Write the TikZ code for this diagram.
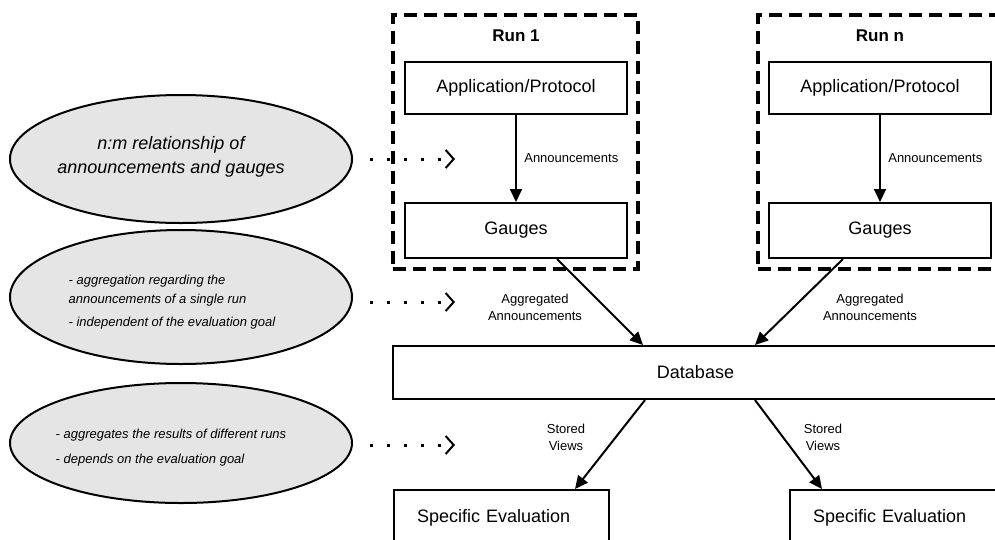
\documentclass[tikz,border=0pt]{standalone}
\usepackage{fontspec}
\setmainfont{Liberation Sans}
\usetikzlibrary{arrows.meta,shapes.geometric,calc}
\definecolor{NoteClr}{rgb}{0.9,0.9,0.9}

\begin{document}
\begin{tikzpicture}[x=1pt,y=-1pt,
  block/.style={draw,line width=2pt,minimum width=222pt,minimum height=52pt,font=\fontsize{18}{21}\selectfont},
  evalblock/.style={block,minimum width=215pt,minimum height=56pt,text width=169pt,inner xsep=23pt,align=left},
  runbox/.style={draw,line width=3.5pt,dash pattern=on 13pt off 7pt,minimum width=245pt,minimum height=254pt},
  runlbl/.style={font=\fontsize{17}{20}\selectfont\bfseries},
  remark/.style={ellipse,draw,fill=NoteClr,line width=2pt,minimum width=342pt},
  notetext/.style={font=\fontsize{13}{19}\selectfont\itshape,align=left},
  lbl/.style={font=\fontsize{13}{17}\selectfont,align=center},
  flow/.style={line width=2pt,-{Triangle[length=13pt,width=12pt]}},
  dotarrow/.style={line width=3pt,dash pattern=on 3pt off 14pt,-{Straight Barb[length=8pt,width=18pt,line width=2pt]}}]
\clip (0,0) rectangle (995,539);

\node[runbox] (run1) at (515.5,142) {};
\node[runbox] (runn) at (880.5,142) {};
\node[runlbl] (run1lbl) at (516,36) {Run 1};
\node[runlbl] (runnlbl) at (880,36) {Run n};

\node[block] (app1) at (516,88) {Application/Protocol};
\node[block,minimum height=55pt] (gauges1) at (516,230.5) {Gauges};
\node[block] (appn) at (880,88) {Application/Protocol};
\node[block,minimum height=55pt] (gaugesn) at (880,230.5) {Gauges};
\node[block,minimum width=605pt,minimum height=53pt] (db) at (695.5,372.5) {Database};
\node[evalblock] (eval1) at (501.5,518) {Specific Evaluation};
\node[evalblock] (evaln) at (897.5,518) {Specific Evaluation};

\draw[flow] (app1) -- node[lbl,right=4pt] (ann1) {Announcements} (gauges1);
\draw[flow] (appn) -- node[lbl,right=4pt] (annn) {Announcements} (gaugesn);
\draw[flow] ([xshift=41pt]gauges1.south) -- ([xshift=-52.5pt]db.north);
\draw[flow] ([xshift=-37pt]gaugesn.south) -- ([xshift=59.5pt]db.north);
\draw[flow] ([xshift=-50.5pt]db.south) -- ([xshift=73.5pt]eval1.north);
\draw[flow] ([xshift=59.5pt]db.south) -- ([xshift=-75.5pt]evaln.north);

\node[lbl] (agg1) at (535,307) {Aggregated\\Announcements};
\node[lbl] (aggn) at (870,307) {Aggregated\\Announcements};
\node[lbl] (stored1) at (566,437) {Stored\\Views};
\node[lbl] (storedn) at (823,437) {Stored\\Views};

\node[remark,minimum height=128pt] (r1) at (181,159) {};
\node[remark,minimum height=134pt] (r2) at (181,297) {};
\node[remark,minimum height=120pt] (r3) at (181,443) {};
\node[notetext,font=\fontsize{18}{24}\selectfont\itshape,align=center] (t1) at (171,157) {n:m relationship of\\announcements and gauges};
\node[notetext] (t2) at (172,302) {- aggregation regarding the\\announcements of a single run\\[4pt]- independent of the evaluation goal};
\node[notetext] (t3) at (171,448) {- aggregates the results of different runs\\[6pt]- depends on the evaluation goal};

\coordinate (d1) at (455,159);
\coordinate (d2) at (455,302);
\coordinate (d3) at (455,445);
\draw[dotarrow] ($(r1.east |- d1)+(17,0)$) -- (d1);
\draw[dotarrow] ($(r2.east |- d2)+(17,0)$) -- (d2);
\draw[dotarrow] ($(r3.east |- d3)+(17,0)$) -- (d3);

\end{tikzpicture}
\end{document}
